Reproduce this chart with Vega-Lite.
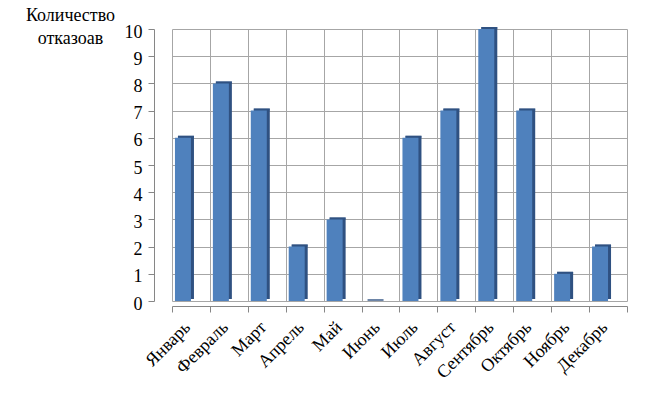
{
  "$schema": "https://vega.github.io/schema/vega-lite/v6.json",
  "autosize": {"type": "none"},
  "padding": {"left": 172, "top": 29, "right": 19, "bottom": 94},
  "width": 455,
  "height": 272,
  "background": "white",
  "config": {
    "view": {"stroke": null}
  },
  "data": {
    "values": [
      {"month": "Январь", "value": 6},
      {"month": "Февраль", "value": 8},
      {"month": "Март", "value": 7},
      {"month": "Апрель", "value": 2},
      {"month": "Май", "value": 3},
      {"month": "Июнь", "value": 0},
      {"month": "Июль", "value": 6},
      {"month": "Август", "value": 7},
      {"month": "Сентябрь", "value": 10},
      {"month": "Октябрь", "value": 7},
      {"month": "Ноябрь", "value": 1},
      {"month": "Декабрь", "value": 2}
    ]
  },
  "encoding": {
    "x": {
      "field": "month",
      "type": "nominal",
      "sort": null,
      "scale": {"paddingInner": 0, "paddingOuter": 0},
      "axis": {
        "title": null,
        "offset": 5,
        "grid": true,
        "gridColor": "#A6A6A6",
        "gridWidth": 1,
        "tickBand": "extent",
        "domainColor": "#868686",
        "tickColor": "#868686",
        "tickSize": 6,
        "labelAngle": -45,
        "labelAlign": "right",
        "labelBaseline": "top",
        "labelOffset": -10,
        "labelPadding": 6,
        "labelFontSize": 18,
        "labelFont": "Times New Roman",
        "labelColor": "#000000"
      }
    },
    "y": {
      "field": "value",
      "type": "quantitative",
      "scale": {"domain": [0, 10], "nice": false},
      "axis": {
        "values": [0, 1, 2, 3, 4, 5, 6, 7, 8, 9, 10],
        "offset": 18,
        "grid": true,
        "gridColor": "#A6A6A6",
        "domainColor": "#868686",
        "tickColor": "#868686",
        "tickSize": 6,
        "labelFontSize": 18,
        "labelFont": "Times New Roman",
        "labelColor": "#000000",
        "labelPadding": 6,
        "labelOffset": 3,
        "title": ["Количество", "отказоав"],
        "titleAngle": 0,
        "titleAlign": "center",
        "titleBaseline": "top",
        "titleX": -84,
        "titleY": -23,
        "titleLineHeight": 23,
        "titleFontSize": 18,
        "titleFont": "Times New Roman",
        "titleFontWeight": "normal",
        "titleColor": "#000000"
      }
    }
  },
  "layer": [
    {
      "mark": {"type": "bar", "color": "#2F5181", "size": 16, "xOffset": -5, "yOffset": -2},
      "encoding": {}
    },
    {
      "mark": {"type": "tick", "color": "#2F5181", "size": 16, "thickness": 2, "orient": "horizontal", "xOffset": -5, "yOffset": -1},
      "encoding": {}
    },
    {
      "mark": {"type": "bar", "color": "#4F81BD", "size": 16, "xOffset": -8},
      "encoding": {}
    }
  ]
}
